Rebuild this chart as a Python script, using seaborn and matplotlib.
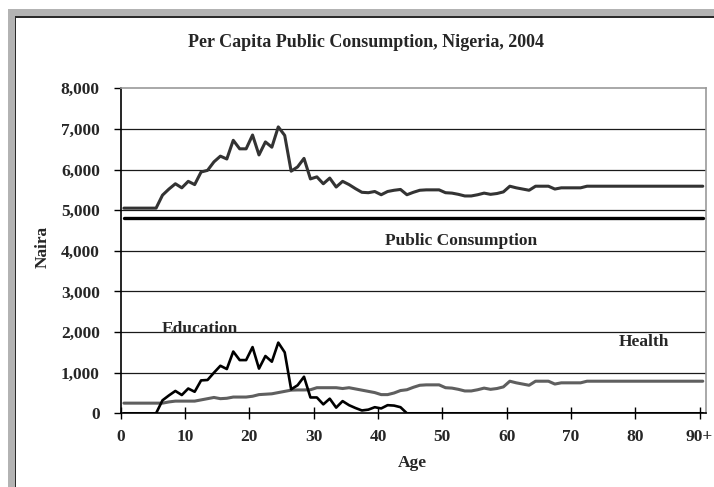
"""Per capita public consumption by age, Nigeria 2004."""

import matplotlib

matplotlib.use("Agg")
import matplotlib.pyplot as plt
import pandas as pd
import seaborn as sns
from matplotlib.patches import Rectangle
from matplotlib.ticker import FuncFormatter

# ages 0 .. 90+ (one value per single year of age)
ages = list(range(91))
age_ticks = [0, 10, 20, 30, 40, 50, 60, 70, 80, 90]
age_tick_labels = ["0", "10", "20", "30", "40", "50", "60", "70", "80", "90+"]

# pure public consumption, flat across ages
public_consumption = 4800

education = (
    [0, 0, 0, 0, 0, 0]
    + [320, 440, 550, 450, 610, 530, 810, 820, 1000, 1170,
       1090, 1520, 1310, 1310, 1630, 1100, 1410, 1270, 1740, 1500,
       590, 690, 900, 390, 390, 220, 360, 140, 300, 200,
       130, 70, 90, 150, 120, 200, 190, 150]
    + [0] * 47
)

health = (
    [250, 250, 250, 250, 250, 250, 250, 280, 300, 300, 300, 300]
    + [330, 360, 390, 360, 370, 400, 400, 400, 420, 460,
       470, 480, 510, 540, 570, 575, 575, 580, 630, 630,
       630, 630, 610, 630, 600, 570, 540, 510]
    + [460, 460, 500, 560, 580, 640, 690, 700, 700, 700,
       630, 620, 590, 550, 550, 580, 620, 590, 610, 650,
       790, 750, 720, 690, 790, 790, 790, 720, 750, 750,
       750, 750, 790]
    + [790] * 18
)


def main() -> None:
    sns.set_theme(style="white")
    plt.rcParams["font.family"] = ["Liberation Serif", "DejaVu Serif"]
    plt.rcParams["font.weight"] = "bold"

    df = pd.DataFrame({"age": ages, "education": education, "health": health})
    df["public"] = public_consumption
    df["total"] = df["public"] + df["education"] + df["health"]

    W, H = 714, 487
    fig = plt.figure(figsize=(W / 100, H / 100), dpi=100)

    # grey frame like the pasted Excel chart
    fig.patches.append(Rectangle((8 / W, 0), 1, 1 - 9 / H, transform=fig.transFigure,
                                 facecolor="#b3b3b3", edgecolor="none", zorder=-3))
    fig.patches.append(Rectangle((15 / W, 0), 1, 1 - 16 / H, transform=fig.transFigure,
                                 facecolor="#2b2b2b", edgecolor="none", zorder=-2))
    fig.patches.append(Rectangle((16 / W, 0), 1, 1 - 17.5 / H, transform=fig.transFigure,
                                 facecolor="white", edgecolor="none", zorder=-1))

    ax = fig.add_axes([120.7 / W, 1 - 413.3 / H, (706 - 120.7) / W, (413.3 - 88.3) / H])
    ax.set_facecolor("white")

    for val in range(1000, 8000, 1000):
        ax.axhline(val, color="#1a1a1a", linewidth=0.9, zorder=1)

    sns.lineplot(data=df, x="age", y="health", ax=ax, color="#5f5f5f", linewidth=2.2, zorder=3)
    sns.lineplot(data=df, x="age", y="education", ax=ax, color="black", linewidth=1.9, zorder=4)
    sns.lineplot(data=df, x="age", y="public", ax=ax, color="black", linewidth=2.4, zorder=3)
    sns.lineplot(data=df, x="age", y="total", ax=ax, color="#333333", linewidth=2.2, zorder=3)

    ax.set_xlim(-0.5, 90.5)
    ax.set_ylim(0, 8000)
    ax.set_xticks([a - 0.5 for a in age_ticks])
    ax.set_xticklabels(age_tick_labels)
    ax.set_yticks(range(0, 8001, 1000))
    ax.yaxis.set_major_formatter(FuncFormatter(lambda v, _: f"{int(v):,}"))

    ax.tick_params(axis="y", direction="out", length=5, width=1, color="black",
                   pad=10, labelsize=12.5, left=True)
    ax.tick_params(axis="x", direction="inout", length=8, width=1, color="black",
                   pad=7, labelsize=12.5, bottom=True)

    for side in ("left", "bottom"):
        ax.spines[side].set_color("black")
        ax.spines[side].set_linewidth(1.2)
    for side in ("top", "right"):
        ax.spines[side].set_color("#999999")
        ax.spines[side].set_linewidth(1.2)

    ax.set_xlabel("Age", fontsize=12.5, fontweight="bold")
    ax.set_ylabel("Naira", fontsize=12.5, fontweight="bold")
    ax.xaxis.set_label_coords(0.4977, -0.128)
    ax.yaxis.set_label_coords(-0.119, 0.512)

    ax.text(52.4, 4244, "Public Consumption", ha="center", va="center",
            fontsize=12.5, fontweight="bold")
    ax.text(11.8, 2076, "Education", ha="center", va="center",
            fontsize=12.5, fontweight="bold")
    ax.text(80.8, 1764, "Health", ha="center", va="center",
            fontsize=12.5, fontweight="bold")

    fig.text(366.5 / W, 1 - 42.7 / H, "Per Capita Public Consumption, Nigeria, 2004",
             ha="center", va="center", fontsize=13, fontweight="bold")

    fig.savefig("out.png", dpi=100)
    plt.close(fig)


if __name__ == "__main__":
    main()
